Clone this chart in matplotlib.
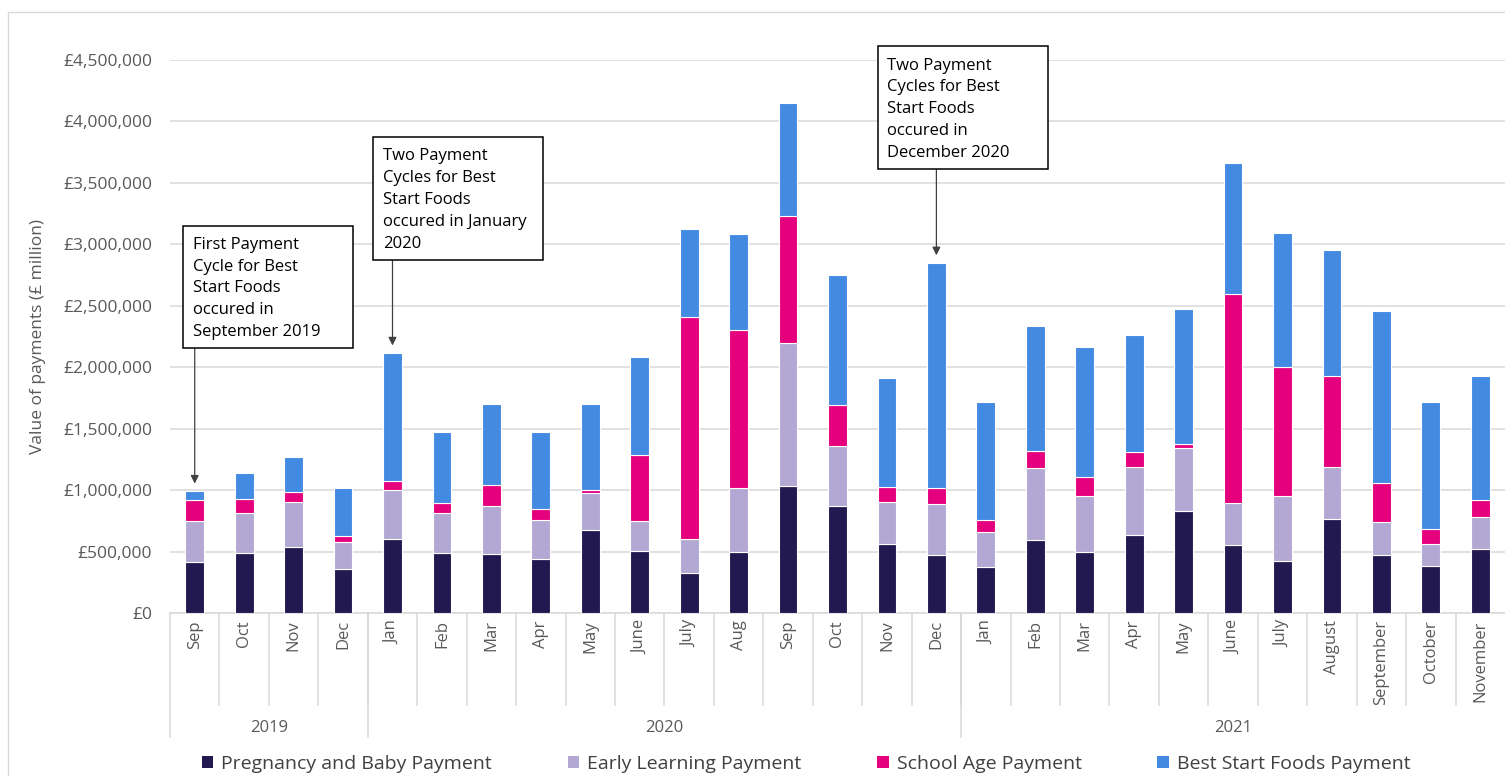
import numpy as np
import matplotlib.pyplot as plt
from matplotlib.patches import Patch, Rectangle
from matplotlib.ticker import FuncFormatter
import matplotlib.transforms as mtransforms

plt.rcParams["font.family"] = ["Open Sans", "DejaVu Sans"]

months = ["Sep", "Oct", "Nov", "Dec",
          "Jan", "Feb", "Mar", "Apr", "May", "June", "July", "Aug", "Sep", "Oct", "Nov", "Dec",
          "Jan", "Feb", "Mar", "Apr", "May", "June", "July", "August", "September", "October", "November"]
years = ["2019", "2020", "2021"]
year_counts = [4, 12, 11]

# values in £ thousand
pregnancy_baby = [418, 486, 540, 358, 600, 491, 480, 437, 676, 508, 323, 494, 1037, 871, 560, 474,
                  375, 592, 500, 638, 829, 552, 421, 766, 470, 380, 519]
early_learning = [331, 331, 366, 223, 402, 326, 394, 320, 304, 241, 280, 523, 1157, 489, 340, 414,
                  287, 584, 456, 547, 516, 342, 533, 424, 272, 182, 266]
school_age = [171, 109, 82, 49, 73, 76, 168, 90, 22, 537, 1805, 1283, 1037, 334, 123, 126,
              96, 142, 153, 122, 33, 1703, 1051, 739, 312, 125, 131]
best_start_foods = [73, 212, 285, 385, 1042, 583, 660, 629, 700, 794, 715, 788, 917, 1057, 891, 1837,
                    961, 1016, 1059, 956, 1097, 1067, 1089, 1027, 1402, 1027, 1010]

series = [
    ("Pregnancy and Baby Payment", pregnancy_baby, "#21194f"),
    ("Early Learning Payment", early_learning, "#b3a8d3"),
    ("School Age Payment", school_age, "#e5007d"),
    ("Best Start Foods Payment", best_start_foods, "#438ae2"),
]

# (bar index, text, box left, box top)
notes = [
    (0, "First Payment\nCycle for Best\nStart Foods\noccured in\nSeptember 2019", -0.24, 3.15e6),
    (4, "Two Payment\nCycles for Best\nStart Foods\noccured in January\n2020", 3.61, 3.87e6),
    (15, "Two Payment\nCycles for Best\nStart Foods\noccured in\nDecember 2020", 13.81, 4.61e6),
]
box_w = 3.44
box_h = 0.995e6

grey = "#595959"
grid_c = "#d9d9d9"

fig = plt.figure(figsize=(15.05, 7.76), dpi=100)
ax = fig.add_axes([170 / 1505, 1 - 613 / 776, 1335 / 1505, 553 / 776])

x = np.arange(len(months))
bottom = np.zeros(len(months))
for name, vals, col in series:
    v = np.asarray(vals, dtype=float) * 1000
    ax.bar(x, v, bottom=bottom, width=0.38, color=col, edgecolor="white", linewidth=0.8,
           label=name, zorder=3)
    bottom += v
totals = bottom

ax.set_xlim(-0.5, len(months) - 0.5)
ax.set_ylim(0, 4.5e6)
ax.set_yticks(np.arange(0, 4.5e6 + 1, 5e5))
ax.yaxis.set_major_formatter(FuncFormatter(lambda v, p: f"£{v:,.0f}"))
ax.tick_params(axis="y", length=0, colors=grey, labelsize=12.5, pad=13)
ax.tick_params(axis="x", length=0, labelbottom=False)
ax.grid(True, axis="y", color=grid_c, linewidth=1.1, zorder=0)
for s in ["top", "right", "left"]:
    ax.spines[s].set_visible(False)
ax.spines["bottom"].set_color(grid_c)
ax.spines["bottom"].set_linewidth(1.1)
ax.set_ylabel("Value of payments (£ million)", color=grey, fontsize=12.5, labelpad=12)

# multi-level category axis
trans = mtransforms.blended_transform_factory(ax.transData, ax.transAxes)
for i, m in enumerate(months):
    ax.text(i, -0.013, m, rotation=90, ha="center", va="top", color=grey, fontsize=12,
            transform=trans)
for i in range(1, len(months)):
    ax.plot([i - 0.5, i - 0.5], [0, -0.166], color=grid_c, lw=1.1, transform=trans, clip_on=False)
start = 0
for yr, n in zip(years, year_counts):
    ax.plot([start - 0.5, start - 0.5], [0, -0.224], color=grid_c, lw=1.1, transform=trans,
            clip_on=False)
    ax.text(start + n / 2 - 0.5, -0.208, yr, ha="center", va="center", color=grey, fontsize=12,
            transform=trans)
    start += n

# annotation boxes with arrows
for idx, txt, bx, by in notes:
    ax.add_patch(Rectangle((bx, by - box_h), box_w, box_h, fc="white", ec="black", lw=1.1,
                           zorder=5, clip_on=False))
    ax.text(bx + 0.2, by - 0.09e6, txt, ha="left", va="top", fontsize=12, color="black",
            linespacing=1.48, zorder=6, clip_on=False)
    ax.annotate("", xy=(idx, totals[idx] + 6e4), xytext=(idx, by - box_h),
                arrowprops=dict(arrowstyle="-|>", color="#404040", lw=0.9,
                                shrinkA=0, shrinkB=0, mutation_scale=12),
                zorder=4, annotation_clip=False)

handles = [Patch(facecolor=c, edgecolor="none", label=n) for n, _, c in series]
fig.legend(handles=handles, loc="center", bbox_to_anchor=(806 / 1505, 1 - 764 / 776), ncol=4,
           frameon=False, fontsize=14, handlelength=0.6, handleheight=0.6, handletextpad=0.4,
           columnspacing=3.9, labelcolor="#404040")

# chart border
fig.patches.append(Rectangle((8 / 1505, -0.01), 1.1, 1 - 12 / 776 + 0.01, transform=fig.transFigure,
                             fill=False, ec=grid_c, lw=1.0))

fig.savefig("out.png", dpi=100)
